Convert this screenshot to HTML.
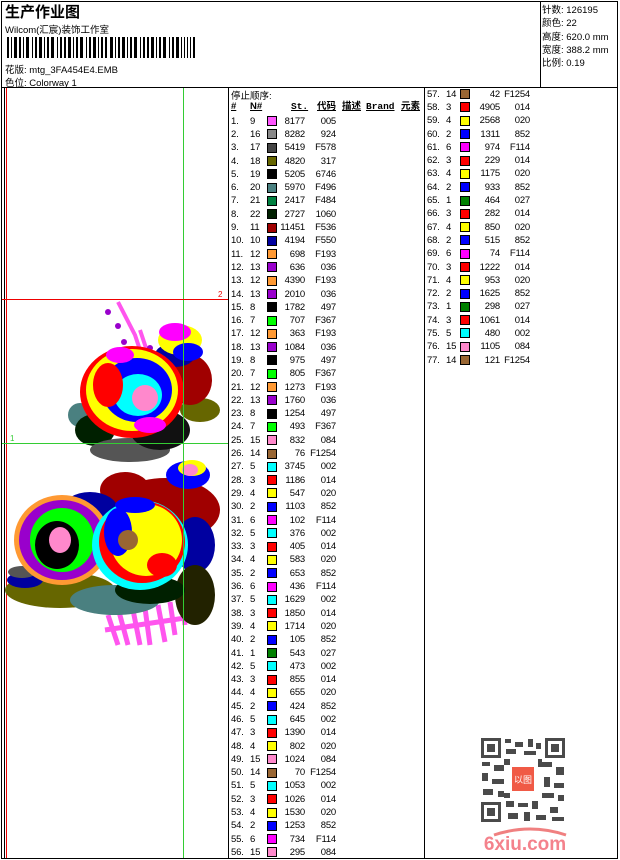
<!DOCTYPE html>
<html><head><meta charset="utf-8"><style>
*{margin:0;padding:0;box-sizing:border-box}
body{width:620px;height:860px;background:#fff;position:relative;overflow:hidden;font-family:"Liberation Sans","Noto Sans CJK SC",sans-serif;font-size:10px;color:#000}
.abs{position:absolute}
.ln{position:absolute;background:#000}
.r{height:13.3px;display:flex;align-items:center;white-space:nowrap;font-size:9.5px;letter-spacing:-0.2px}
.a{width:19px}.b{width:17px}
.sw{width:10px;height:10px;border:1px solid #000;flex:none}
.s{width:28px;text-align:right}.c{width:31px;text-align:right}
#R .b{width:14px}#R .s{width:30px}#R .c{width:30px}
.hd{font-weight:bold;text-decoration:underline;font-size:9.5px;position:absolute;top:0;line-height:12px}
</style></head><body>
<!-- frame -->
<div class="ln" style="left:1px;top:1px;width:617px;height:1px"></div>
<div class="ln" style="left:1px;top:1px;width:1px;height:858px"></div>
<div class="ln" style="left:617px;top:1px;width:1px;height:858px"></div>
<div class="ln" style="left:1px;top:858px;width:617px;height:1px"></div>
<div class="ln" style="left:1px;top:87px;width:617px;height:1px"></div>
<div class="ln" style="left:540px;top:1px;width:1px;height:87px"></div>
<div class="ln" style="left:228px;top:87px;width:1px;height:772px"></div>
<div class="ln" style="left:424px;top:87px;width:1px;height:772px"></div>
<!-- header -->
<div class="abs" style="left:5px;top:1px;font-size:15px;font-weight:bold">生产作业图</div>
<div class="abs" style="left:5px;top:22px;font-size:9.5px">Wilcom(汇宸)装饰工作室</div>
<svg class="abs" style="left:7px;top:37px" width="190" height="21">
<g fill="#000">
<rect x="0" y="0" width="2" height="21"/><rect x="4" y="0" width="1" height="21"/><rect x="7" y="0" width="3" height="21"/><rect x="12" y="0" width="2" height="21"/><rect x="16" y="0" width="1" height="21"/><rect x="19" y="0" width="3" height="21"/><rect x="25" y="0" width="1" height="21"/><rect x="28" y="0" width="2" height="21"/><rect x="32" y="0" width="3" height="21"/><rect x="37" y="0" width="1" height="21"/><rect x="40" y="0" width="2" height="21"/><rect x="44" y="0" width="3" height="21"/><rect x="50" y="0" width="1" height="21"/><rect x="53" y="0" width="2" height="21"/><rect x="57" y="0" width="2" height="21"/><rect x="61" y="0" width="3" height="21"/><rect x="66" y="0" width="1" height="21"/><rect x="69" y="0" width="2" height="21"/><rect x="73" y="0" width="3" height="21"/><rect x="79" y="0" width="1" height="21"/><rect x="82" y="0" width="2" height="21"/><rect x="86" y="0" width="3" height="21"/><rect x="91" y="0" width="1" height="21"/><rect x="94" y="0" width="2" height="21"/><rect x="98" y="0" width="2" height="21"/><rect x="103" y="0" width="3" height="21"/><rect x="108" y="0" width="1" height="21"/><rect x="111" y="0" width="2" height="21"/><rect x="115" y="0" width="3" height="21"/><rect x="120" y="0" width="1" height="21"/><rect x="123" y="0" width="2" height="21"/><rect x="127" y="0" width="3" height="21"/><rect x="133" y="0" width="1" height="21"/><rect x="136" y="0" width="2" height="21"/><rect x="140" y="0" width="2" height="21"/><rect x="144" y="0" width="3" height="21"/><rect x="149" y="0" width="1" height="21"/><rect x="152" y="0" width="2" height="21"/><rect x="156" y="0" width="3" height="21"/><rect x="162" y="0" width="1" height="21"/><rect x="165" y="0" width="2" height="21"/><rect x="169" y="0" width="3" height="21"/><rect x="174" y="0" width="1" height="21"/><rect x="177" y="0" width="1" height="21"/><rect x="180" y="0" width="1" height="21"/><rect x="183" y="0" width="1" height="21"/><rect x="186" y="0" width="2" height="21"/>
</g></svg>
<div class="abs" style="left:5px;top:62px;font-size:9.5px">花版: mtg_3FA454E4.EMB</div>
<div class="abs" style="left:5px;top:75px;font-size:9.5px">色位: Colorway 1</div>
<div class="abs" style="left:542px;top:4px;font-size:9.5px;line-height:13.3px">针数: 126195<br>颜色: 22<br>高度: 620.0 mm<br>宽度: 388.2 mm<br>比例: 0.19</div>
<!-- drawing area lines -->
<div class="abs" style="left:4px;top:88px;width:1px;height:770px;background:#000"></div>
<div class="abs" style="left:6px;top:88px;width:1px;height:770px;background:#e00"></div>
<svg class="abs" style="left:0;top:290px" width="228" height="370">
<g>
<g stroke="#ff55ee" stroke-width="4" fill="none"><path d="M118 12 L135 45 L145 75"/><path d="M140 40 L150 70"/></g>
<g stroke="#ff55ee" stroke-width="5"><path d="M108 325 L118 355 M118 318 L128 355 M132 315 L140 355 M145 318 L150 355 M158 315 L165 352 M170 312 L175 345 M182 308 L185 335 M105 340 L185 328"/></g>
<g fill="#9900cc"><circle cx="108" cy="22" r="3"/><circle cx="118" cy="36" r="3"/><circle cx="124" cy="52" r="3"/><circle cx="150" cy="58" r="3"/><circle cx="126" cy="70" r="3"/><circle cx="147" cy="72" r="3"/></g>
<!-- leaves top -->
<ellipse cx="80" cy="125" rx="12" ry="12" fill="#4a8080"/>
<ellipse cx="95" cy="140" rx="20" ry="16" fill="#002000"/>
<ellipse cx="130" cy="160" rx="40" ry="12" fill="#555"/>
<ellipse cx="160" cy="140" rx="30" ry="20" fill="#111"/>
<ellipse cx="200" cy="120" rx="20" ry="12" fill="#666600"/>
<ellipse cx="190" cy="90" rx="22" ry="25" fill="#a00000"/>
<ellipse cx="175" cy="65" rx="20" ry="12" fill="#0000a0"/>
<!-- lower leaves -->
<ellipse cx="165" cy="220" rx="55" ry="32" fill="#a00000"/>
<ellipse cx="125" cy="200" rx="25" ry="18" fill="#a00000"/>
<ellipse cx="90" cy="220" rx="28" ry="18" fill="#0000a0"/>
<ellipse cx="195" cy="255" rx="20" ry="28" fill="#0000a0"/>
<ellipse cx="195" cy="305" rx="20" ry="30" fill="#222200"/>
<ellipse cx="60" cy="300" rx="55" ry="18" fill="#666600"/>
<ellipse cx="115" cy="310" rx="45" ry="15" fill="#4a8080"/>
<ellipse cx="150" cy="300" rx="35" ry="14" fill="#002000"/>
<ellipse cx="25" cy="290" rx="18" ry="8" fill="#0000a0"/>
<ellipse cx="22" cy="282" rx="14" ry="6" fill="#555"/>
<!-- top small flower -->
<ellipse cx="180" cy="50" rx="22" ry="15" fill="#ffff00"/>
<ellipse cx="175" cy="42" rx="16" ry="9" fill="#ff00ff"/>
<ellipse cx="188" cy="62" rx="15" ry="9" fill="#0000ff"/>
<!-- top flower -->
<ellipse cx="132" cy="102" rx="52" ry="46" fill="#ff0000"/>
<ellipse cx="132" cy="100" rx="46" ry="41" fill="#ffff00"/>
<ellipse cx="137" cy="100" rx="35" ry="32" fill="#0000ff"/>
<ellipse cx="138" cy="105" rx="24" ry="21" fill="#00ffff"/>
<ellipse cx="108" cy="95" rx="15" ry="22" fill="#ff0000"/>
<ellipse cx="145" cy="108" rx="13" ry="13" fill="#ff88cc"/>
<ellipse cx="150" cy="135" rx="16" ry="8" fill="#ff00ff"/>
<ellipse cx="120" cy="65" rx="14" ry="8" fill="#ff00ff"/>
<!-- right small flower -->
<ellipse cx="188" cy="185" rx="22" ry="14" fill="#0000ff"/>
<ellipse cx="192" cy="178" rx="14" ry="8" fill="#ffff00"/>
<ellipse cx="190" cy="180" rx="8" ry="6" fill="#ff88cc"/>
<!-- bottom left flower -->
<ellipse cx="62" cy="250" rx="48" ry="45" fill="#ff9933"/>
<ellipse cx="62" cy="250" rx="43" ry="40" fill="#9900cc"/>
<ellipse cx="62" cy="250" rx="32" ry="32" fill="#00ff00"/>
<ellipse cx="57" cy="255" rx="22" ry="24" fill="#000"/>
<ellipse cx="60" cy="250" rx="11" ry="13" fill="#ff88cc"/>
<!-- bottom right flower -->
<ellipse cx="140" cy="255" rx="48" ry="45" fill="#00ffff"/>
<ellipse cx="142" cy="252" rx="43" ry="41" fill="#ff0000"/>
<ellipse cx="146" cy="250" rx="36" ry="36" fill="#ffff00"/>
<ellipse cx="118" cy="242" rx="14" ry="24" fill="#0000ff"/>
<ellipse cx="128" cy="250" rx="10" ry="10" fill="#996633"/>
<ellipse cx="162" cy="275" rx="15" ry="12" fill="#ff0000"/>
<ellipse cx="135" cy="215" rx="20" ry="8" fill="#0000ff"/>
</g>
</svg>
<div class="abs" style="left:183px;top:88px;width:1px;height:770px;background:#3c3"></div>
<div class="abs" style="left:2px;top:299px;width:226px;height:1px;background:#e00"></div>
<div class="abs" style="left:2px;top:443px;width:226px;height:1px;background:#3c3"></div>
<div class="abs" style="left:10px;top:434px;color:#3c3;font-size:8px">1</div>
<div class="abs" style="left:218px;top:290px;color:#e00;font-size:8px">2</div>
<!-- middle column -->
<div class="abs" style="left:231px;top:88px;font-size:9.5px">停止顺序:</div>
<div class="abs" style="left:231px;top:101px;width:195px;height:13px;white-space:nowrap">
<span class="hd" style="left:0">#</span><span class="hd" style="left:19px">N#</span><span class="hd" style="left:60px;font-family:'Liberation Mono',monospace">St.</span><span class="hd" style="left:86px">代码</span><span class="hd" style="left:111px">描述</span><span class="hd" style="left:135px;font-family:'Liberation Mono',monospace">Brand</span><span class="hd" style="left:170px">元素</span></div>
<div class="abs" style="left:231px;top:114.5px">
<div class="r"><span class="a">1.</span><span class="b">9</span><span class="sw" style="background:#ff55ff"></span><span class="s">8177</span><span class="c">005</span></div>
<div class="r"><span class="a">2.</span><span class="b">16</span><span class="sw" style="background:#888"></span><span class="s">8282</span><span class="c">924</span></div>
<div class="r"><span class="a">3.</span><span class="b">17</span><span class="sw" style="background:#444"></span><span class="s">5419</span><span class="c">F578</span></div>
<div class="r"><span class="a">4.</span><span class="b">18</span><span class="sw" style="background:#666600"></span><span class="s">4820</span><span class="c">317</span></div>
<div class="r"><span class="a">5.</span><span class="b">19</span><span class="sw" style="background:#000"></span><span class="s">5205</span><span class="c">6746</span></div>
<div class="r"><span class="a">6.</span><span class="b">20</span><span class="sw" style="background:#4a8080"></span><span class="s">5970</span><span class="c">F496</span></div>
<div class="r"><span class="a">7.</span><span class="b">21</span><span class="sw" style="background:#008040"></span><span class="s">2417</span><span class="c">F484</span></div>
<div class="r"><span class="a">8.</span><span class="b">22</span><span class="sw" style="background:#002000"></span><span class="s">2727</span><span class="c">1060</span></div>
<div class="r"><span class="a">9.</span><span class="b">11</span><span class="sw" style="background:#a00000"></span><span class="s">11451</span><span class="c">F536</span></div>
<div class="r"><span class="a">10.</span><span class="b">10</span><span class="sw" style="background:#0000a0"></span><span class="s">4194</span><span class="c">F550</span></div>
<div class="r"><span class="a">11.</span><span class="b">12</span><span class="sw" style="background:#ff9933"></span><span class="s">698</span><span class="c">F193</span></div>
<div class="r"><span class="a">12.</span><span class="b">13</span><span class="sw" style="background:#9900cc"></span><span class="s">636</span><span class="c">036</span></div>
<div class="r"><span class="a">13.</span><span class="b">12</span><span class="sw" style="background:#ff9933"></span><span class="s">4390</span><span class="c">F193</span></div>
<div class="r"><span class="a">14.</span><span class="b">13</span><span class="sw" style="background:#9900cc"></span><span class="s">2010</span><span class="c">036</span></div>
<div class="r"><span class="a">15.</span><span class="b">8</span><span class="sw" style="background:#000"></span><span class="s">1782</span><span class="c">497</span></div>
<div class="r"><span class="a">16.</span><span class="b">7</span><span class="sw" style="background:#00ff00"></span><span class="s">707</span><span class="c">F367</span></div>
<div class="r"><span class="a">17.</span><span class="b">12</span><span class="sw" style="background:#ff9933"></span><span class="s">363</span><span class="c">F193</span></div>
<div class="r"><span class="a">18.</span><span class="b">13</span><span class="sw" style="background:#9900cc"></span><span class="s">1084</span><span class="c">036</span></div>
<div class="r"><span class="a">19.</span><span class="b">8</span><span class="sw" style="background:#000"></span><span class="s">975</span><span class="c">497</span></div>
<div class="r"><span class="a">20.</span><span class="b">7</span><span class="sw" style="background:#00ff00"></span><span class="s">805</span><span class="c">F367</span></div>
<div class="r"><span class="a">21.</span><span class="b">12</span><span class="sw" style="background:#ff9933"></span><span class="s">1273</span><span class="c">F193</span></div>
<div class="r"><span class="a">22.</span><span class="b">13</span><span class="sw" style="background:#9900cc"></span><span class="s">1760</span><span class="c">036</span></div>
<div class="r"><span class="a">23.</span><span class="b">8</span><span class="sw" style="background:#000"></span><span class="s">1254</span><span class="c">497</span></div>
<div class="r"><span class="a">24.</span><span class="b">7</span><span class="sw" style="background:#00ff00"></span><span class="s">493</span><span class="c">F367</span></div>
<div class="r"><span class="a">25.</span><span class="b">15</span><span class="sw" style="background:#ff88cc"></span><span class="s">832</span><span class="c">084</span></div>
<div class="r"><span class="a">26.</span><span class="b">14</span><span class="sw" style="background:#996633"></span><span class="s">76</span><span class="c">F1254</span></div>
<div class="r"><span class="a">27.</span><span class="b">5</span><span class="sw" style="background:#00ffff"></span><span class="s">3745</span><span class="c">002</span></div>
<div class="r"><span class="a">28.</span><span class="b">3</span><span class="sw" style="background:#ff0000"></span><span class="s">1186</span><span class="c">014</span></div>
<div class="r"><span class="a">29.</span><span class="b">4</span><span class="sw" style="background:#ffff00"></span><span class="s">547</span><span class="c">020</span></div>
<div class="r"><span class="a">30.</span><span class="b">2</span><span class="sw" style="background:#0000ff"></span><span class="s">1103</span><span class="c">852</span></div>
<div class="r"><span class="a">31.</span><span class="b">6</span><span class="sw" style="background:#ff00ff"></span><span class="s">102</span><span class="c">F114</span></div>
<div class="r"><span class="a">32.</span><span class="b">5</span><span class="sw" style="background:#00ffff"></span><span class="s">376</span><span class="c">002</span></div>
<div class="r"><span class="a">33.</span><span class="b">3</span><span class="sw" style="background:#ff0000"></span><span class="s">405</span><span class="c">014</span></div>
<div class="r"><span class="a">34.</span><span class="b">4</span><span class="sw" style="background:#ffff00"></span><span class="s">583</span><span class="c">020</span></div>
<div class="r"><span class="a">35.</span><span class="b">2</span><span class="sw" style="background:#0000ff"></span><span class="s">653</span><span class="c">852</span></div>
<div class="r"><span class="a">36.</span><span class="b">6</span><span class="sw" style="background:#ff00ff"></span><span class="s">436</span><span class="c">F114</span></div>
<div class="r"><span class="a">37.</span><span class="b">5</span><span class="sw" style="background:#00ffff"></span><span class="s">1629</span><span class="c">002</span></div>
<div class="r"><span class="a">38.</span><span class="b">3</span><span class="sw" style="background:#ff0000"></span><span class="s">1850</span><span class="c">014</span></div>
<div class="r"><span class="a">39.</span><span class="b">4</span><span class="sw" style="background:#ffff00"></span><span class="s">1714</span><span class="c">020</span></div>
<div class="r"><span class="a">40.</span><span class="b">2</span><span class="sw" style="background:#0000ff"></span><span class="s">105</span><span class="c">852</span></div>
<div class="r"><span class="a">41.</span><span class="b">1</span><span class="sw" style="background:#008000"></span><span class="s">543</span><span class="c">027</span></div>
<div class="r"><span class="a">42.</span><span class="b">5</span><span class="sw" style="background:#00ffff"></span><span class="s">473</span><span class="c">002</span></div>
<div class="r"><span class="a">43.</span><span class="b">3</span><span class="sw" style="background:#ff0000"></span><span class="s">855</span><span class="c">014</span></div>
<div class="r"><span class="a">44.</span><span class="b">4</span><span class="sw" style="background:#ffff00"></span><span class="s">655</span><span class="c">020</span></div>
<div class="r"><span class="a">45.</span><span class="b">2</span><span class="sw" style="background:#0000ff"></span><span class="s">424</span><span class="c">852</span></div>
<div class="r"><span class="a">46.</span><span class="b">5</span><span class="sw" style="background:#00ffff"></span><span class="s">645</span><span class="c">002</span></div>
<div class="r"><span class="a">47.</span><span class="b">3</span><span class="sw" style="background:#ff0000"></span><span class="s">1390</span><span class="c">014</span></div>
<div class="r"><span class="a">48.</span><span class="b">4</span><span class="sw" style="background:#ffff00"></span><span class="s">802</span><span class="c">020</span></div>
<div class="r"><span class="a">49.</span><span class="b">15</span><span class="sw" style="background:#ff88cc"></span><span class="s">1024</span><span class="c">084</span></div>
<div class="r"><span class="a">50.</span><span class="b">14</span><span class="sw" style="background:#996633"></span><span class="s">70</span><span class="c">F1254</span></div>
<div class="r"><span class="a">51.</span><span class="b">5</span><span class="sw" style="background:#00ffff"></span><span class="s">1053</span><span class="c">002</span></div>
<div class="r"><span class="a">52.</span><span class="b">3</span><span class="sw" style="background:#ff0000"></span><span class="s">1026</span><span class="c">014</span></div>
<div class="r"><span class="a">53.</span><span class="b">4</span><span class="sw" style="background:#ffff00"></span><span class="s">1530</span><span class="c">020</span></div>
<div class="r"><span class="a">54.</span><span class="b">2</span><span class="sw" style="background:#0000ff"></span><span class="s">1253</span><span class="c">852</span></div>
<div class="r"><span class="a">55.</span><span class="b">6</span><span class="sw" style="background:#ff00ff"></span><span class="s">734</span><span class="c">F114</span></div>
<div class="r"><span class="a">56.</span><span class="b">15</span><span class="sw" style="background:#ff88cc"></span><span class="s">295</span><span class="c">084</span></div>
</div>
<!-- right column -->
<div id="R" class="abs" style="left:427px;top:87.5px">
<div class="r"><span class="a">57.</span><span class="b">14</span><span class="sw" style="background:#996633"></span><span class="s">42</span><span class="c">F1254</span></div>
<div class="r"><span class="a">58.</span><span class="b">3</span><span class="sw" style="background:#ff0000"></span><span class="s">4905</span><span class="c">014</span></div>
<div class="r"><span class="a">59.</span><span class="b">4</span><span class="sw" style="background:#ffff00"></span><span class="s">2568</span><span class="c">020</span></div>
<div class="r"><span class="a">60.</span><span class="b">2</span><span class="sw" style="background:#0000ff"></span><span class="s">1311</span><span class="c">852</span></div>
<div class="r"><span class="a">61.</span><span class="b">6</span><span class="sw" style="background:#ff00ff"></span><span class="s">974</span><span class="c">F114</span></div>
<div class="r"><span class="a">62.</span><span class="b">3</span><span class="sw" style="background:#ff0000"></span><span class="s">229</span><span class="c">014</span></div>
<div class="r"><span class="a">63.</span><span class="b">4</span><span class="sw" style="background:#ffff00"></span><span class="s">1175</span><span class="c">020</span></div>
<div class="r"><span class="a">64.</span><span class="b">2</span><span class="sw" style="background:#0000ff"></span><span class="s">933</span><span class="c">852</span></div>
<div class="r"><span class="a">65.</span><span class="b">1</span><span class="sw" style="background:#008000"></span><span class="s">464</span><span class="c">027</span></div>
<div class="r"><span class="a">66.</span><span class="b">3</span><span class="sw" style="background:#ff0000"></span><span class="s">282</span><span class="c">014</span></div>
<div class="r"><span class="a">67.</span><span class="b">4</span><span class="sw" style="background:#ffff00"></span><span class="s">850</span><span class="c">020</span></div>
<div class="r"><span class="a">68.</span><span class="b">2</span><span class="sw" style="background:#0000ff"></span><span class="s">515</span><span class="c">852</span></div>
<div class="r"><span class="a">69.</span><span class="b">6</span><span class="sw" style="background:#ff00ff"></span><span class="s">74</span><span class="c">F114</span></div>
<div class="r"><span class="a">70.</span><span class="b">3</span><span class="sw" style="background:#ff0000"></span><span class="s">1222</span><span class="c">014</span></div>
<div class="r"><span class="a">71.</span><span class="b">4</span><span class="sw" style="background:#ffff00"></span><span class="s">953</span><span class="c">020</span></div>
<div class="r"><span class="a">72.</span><span class="b">2</span><span class="sw" style="background:#0000ff"></span><span class="s">1625</span><span class="c">852</span></div>
<div class="r"><span class="a">73.</span><span class="b">1</span><span class="sw" style="background:#008000"></span><span class="s">298</span><span class="c">027</span></div>
<div class="r"><span class="a">74.</span><span class="b">3</span><span class="sw" style="background:#ff0000"></span><span class="s">1061</span><span class="c">014</span></div>
<div class="r"><span class="a">75.</span><span class="b">5</span><span class="sw" style="background:#00ffff"></span><span class="s">480</span><span class="c">002</span></div>
<div class="r"><span class="a">76.</span><span class="b">15</span><span class="sw" style="background:#ff88cc"></span><span class="s">1105</span><span class="c">084</span></div>
<div class="r"><span class="a">77.</span><span class="b">14</span><span class="sw" style="background:#996633"></span><span class="s">121</span><span class="c">F1254</span></div>
</div>
<!-- QR -->
<svg class="abs" style="left:480px;top:737px" width="86" height="86">
<rect width="86" height="86" fill="#fff"/>
<g fill="#4a4a4a">
<rect x="1" y="1" width="20" height="20"/><rect x="65" y="1" width="20" height="20"/><rect x="1" y="65" width="20" height="20"/>
</g>
<g fill="#fff"><rect x="4" y="4" width="14" height="14"/><rect x="68" y="4" width="14" height="14"/><rect x="4" y="68" width="14" height="14"/></g>
<g fill="#4a4a4a"><rect x="7" y="7" width="8" height="8"/><rect x="71" y="7" width="8" height="8"/><rect x="7" y="71" width="8" height="8"/>
<rect x="25" y="2" width="6" height="4"/><rect x="35" y="5" width="8" height="5"/><rect x="48" y="2" width="5" height="8"/><rect x="56" y="6" width="5" height="6"/><rect x="26" y="12" width="10" height="5"/><rect x="44" y="14" width="12" height="4"/>
<rect x="2" y="25" width="8" height="4"/><rect x="14" y="28" width="10" height="6"/><rect x="2" y="36" width="6" height="8"/><rect x="12" y="42" width="12" height="5"/><rect x="3" y="52" width="10" height="6"/><rect x="18" y="54" width="6" height="6"/>
<rect x="62" y="25" width="10" height="5"/><rect x="76" y="30" width="8" height="8"/><rect x="64" y="40" width="6" height="10"/><rect x="74" y="46" width="10" height="5"/><rect x="62" y="56" width="12" height="5"/><rect x="78" y="58" width="6" height="6"/>
<rect x="26" y="64" width="8" height="6"/><rect x="38" y="66" width="10" height="4"/><rect x="52" y="64" width="6" height="8"/><rect x="28" y="76" width="10" height="6"/><rect x="44" y="75" width="6" height="9"/><rect x="56" y="78" width="10" height="5"/><rect x="70" y="70" width="8" height="6"/><rect x="72" y="80" width="12" height="4"/>
<rect x="24" y="22" width="6" height="6"/><rect x="58" y="22" width="4" height="8"/><rect x="24" y="56" width="6" height="5"/></g>
<rect x="32" y="30" width="22" height="24" fill="#f05a46"/>
<text x="43" y="46" font-size="9" fill="#fff" text-anchor="middle" font-family="Noto Sans CJK SC,sans-serif">以图</text>
</svg>
<svg class="abs" style="left:470px;top:825px" width="110" height="30">
<path d="M24 10 Q60 -2 96 10" stroke="#f08080" stroke-width="3" fill="none"/>
<text x="55" y="25" font-size="19" font-weight="bold" fill="#f4828c" text-anchor="middle" font-family="Liberation Sans,sans-serif">6xiu.com</text>
</svg>
</body></html>
